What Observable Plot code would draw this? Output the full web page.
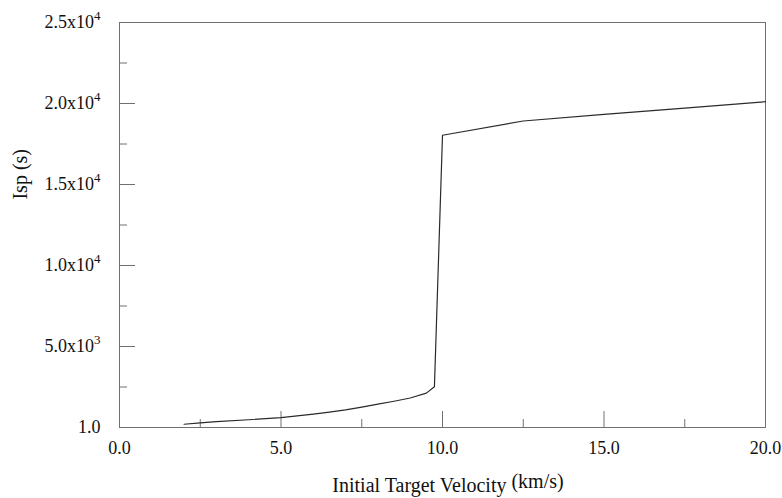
<!DOCTYPE html>
<html><head><meta charset="utf-8">
<script src="https://cdn.jsdelivr.net/npm/d3@7"></script>
<script src="https://cdn.jsdelivr.net/npm/@observablehq/plot@0.6"></script>
<style>body{margin:0;background:#fff} svg{display:block}</style>
</head><body><div id="chart"></div>
<script>
// Data
const velocity = [2.0, 2.5, 3.0, 4.0, 5.0, 6.0, 6.5, 7.0, 7.5, 8.0, 8.5, 9.0, 9.5, 9.75, 10.0, 12.5, 15.0, 17.5, 20.0];
const isp = [200, 290, 360, 480, 610, 830, 950, 1090, 1260, 1440, 1620, 1820, 2120, 2520, 18040, 18920, 19330, 19720, 20110];
const xMajor = [0, 5, 10, 15, 20];
const xMinor = [2.5, 7.5, 12.5, 17.5];
const xTickLabels = ["0.0", "5.0", "10.0", "15.0", "20.0"];
const yMajor = [0, 5000, 10000, 15000, 20000, 25000];
const yMinor = [2500, 7500, 12500, 17500, 22500];
const yTickLabels = ["1.0", "5.0x10^3", "1.0x10^4", "1.5x10^4", "2.0x10^4", "2.5x10^4"];
const xTitle = "Initial Target Velocity";
const xUnit = "(km/s)";
const yTitle = "Isp (s)";

const data = velocity.map((v, i) => ({v, isp: isp[i]}));
const font = '"Liberation Serif", "Times New Roman", serif';
const axisGray = "#707070";

const chart = Plot.plot({
  width: 782, height: 498,
  marginLeft: 119, marginRight: 17, marginTop: 22, marginBottom: 71,
  style: {fontFamily: font, fontSize: "18px", color: "#111", background: "#fff"},
  x: {domain: [0, 20]},
  y: {domain: [0, 25000]},
  marks: [
    Plot.frame({stroke: axisGray}),
    Plot.axisX(xMajor, {anchor: "bottom", tickSize: 16, dy: -16, fill: "none", stroke: axisGray}),
    Plot.axisX(xMinor, {anchor: "bottom", tickSize: 8, dy: -8, fill: "none", stroke: axisGray}),
    Plot.axisY(yMajor, {anchor: "left", tickSize: 16, dx: 16, fill: "none", stroke: axisGray}),
    Plot.axisY(yMinor, {anchor: "left", tickSize: 8, dx: 8, fill: "none", stroke: axisGray}),
    Plot.axisX(xMajor, {anchor: "bottom", tickSize: 0, tickPadding: 14, label: null, fill: "#111",
      tickFormat: d => xTickLabels[xMajor.indexOf(d)]}),
    Plot.axisY(yMajor, {anchor: "left", tickSize: 0, tickPadding: 19, label: null, fill: "#111",
      tickFormat: d => yTickLabels[yMajor.indexOf(d)]}),
    Plot.line(data, {x: "v", y: "isp", stroke: "#2a2a2a", strokeWidth: 1.2})
  ]
});
document.getElementById("chart").append(chart);

const svg = d3.select(chart);
// superscript exponents in y tick labels
svg.selectAll('g[aria-label="y-axis tick label"] text').each(function () {
  const s = this.textContent;
  if (!s.includes("^")) return;
  const [base, exp] = s.split("^");
  const t = d3.select(this);
  t.text(null);
  t.append("tspan").text(base);
  t.append("tspan").attr("dy", "-0.6em").attr("font-size", "13px").text(exp);
});

const xs = chart.scale("x"), ys = chart.scale("y");
const xMid = (xs.range[0] + xs.range[1]) / 2;
const xl = svg.append("text")
  .attr("x", xMid + 6).attr("y", 492)
  .attr("text-anchor", "middle")
  .attr("font-family", font).attr("font-size", "20px").attr("fill", "#111");
xl.append("tspan").text(xTitle + " ");
xl.append("tspan").attr("dy", -4).text(xUnit);

svg.append("text")
  .attr("transform", `translate(27,${ys.apply(15600)}) rotate(-90)`)
  .attr("text-anchor", "middle")
  .attr("font-family", font).attr("font-size", "20px").attr("fill", "#111")
  .text(yTitle);
</script>
</body></html>
